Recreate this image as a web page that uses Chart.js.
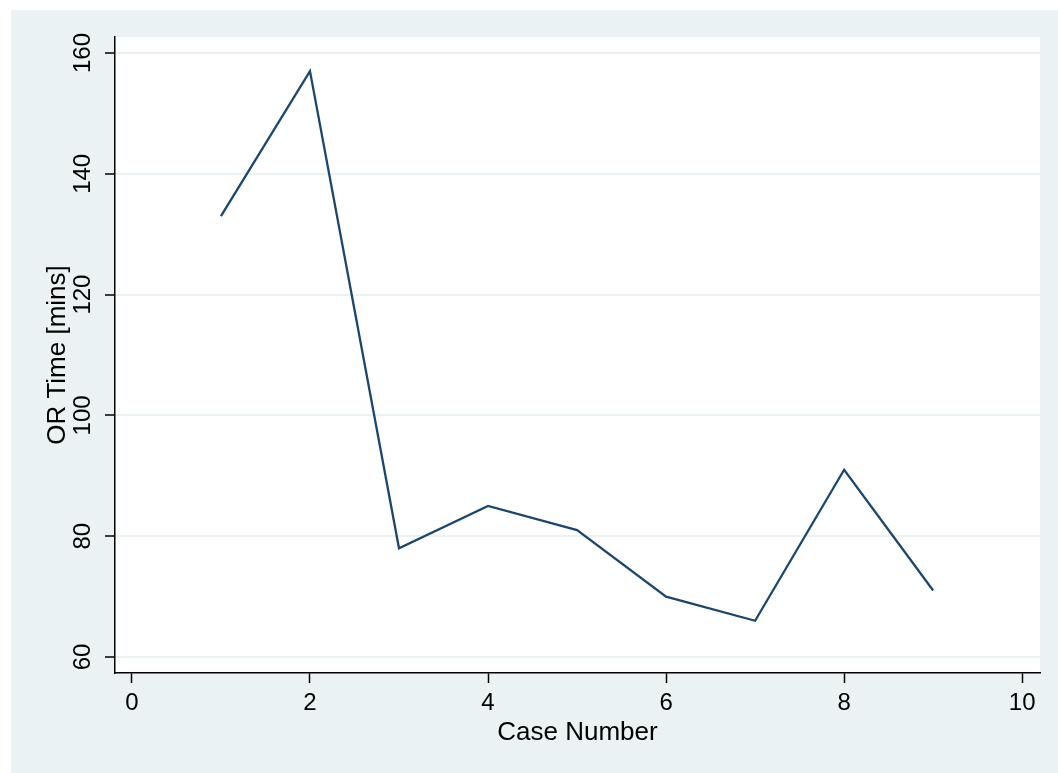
<!DOCTYPE html>
<html>
<head>
<meta charset="utf-8">
<script src="https://cdn.jsdelivr.net/npm/chart.js@4.4.1/dist/chart.umd.min.js"></script>
<style>
  html, body { margin: 0; padding: 0; background: #ffffff; }
  #wrap { position: absolute; left: 11px; top: 10px; width: 1047px; height: 763px; background: #EAF2F3; }
</style>
</head>
<body>
<div id="wrap"><canvas id="orChart" width="1047" height="763"></canvas></div>
<script>
// case number vs OR time
const caseNumbers = [1, 2, 3, 4, 5, 6, 7, 8, 9];
const orTimes = [133, 157, 78, 85, 81, 70, 66, 91, 71];
const xTickLabels = [0, 2, 4, 6, 8, 10];
const yTickLabels = [60, 80, 100, 120, 140, 160];

const plotBg = {
  id: 'plotBg',
  beforeDraw(chart) {
    const { ctx, chartArea } = chart;
    ctx.save();
    ctx.fillStyle = '#ffffff';
    ctx.fillRect(chartArea.left, chartArea.top, chartArea.right - chartArea.left, chartArea.bottom - chartArea.top);
    ctx.restore();
  }
};

const fontFamily = '"Liberation Sans", Arial, Helvetica, sans-serif';

new Chart(document.getElementById('orChart').getContext('2d'), {
  type: 'line',
  data: {
    datasets: [{
      data: caseNumbers.map((c, i) => ({ x: c, y: orTimes[i] })),
      borderColor: '#1A476F',
      borderWidth: 2.3,
      pointRadius: 0,
      tension: 0,
      fill: false
    }]
  },
  options: {
    responsive: false,
    animation: false,
    layout: { padding: { top: 27, right: 18, left: 0, bottom: 0 } },
    plugins: { legend: { display: false }, tooltip: { enabled: false } },
    scales: {
      x: {
        type: 'linear',
        min: -0.19,
        max: 10.2,
        afterBuildTicks: scale => { scale.ticks = xTickLabels.map(v => ({ value: v })); },
        afterFit: scale => { scale.height = 100; },
        grid: { drawOnChartArea: false, tickColor: '#000', tickLength: 10, tickWidth: 1.5 },
        border: { color: '#000', width: 1.5 },
        ticks: { color: '#000', font: { family: fontFamily, size: 24 }, padding: 6, maxRotation: 0 },
        title: { display: true, text: 'Case Number', color: '#000', font: { family: fontFamily, size: 26 }, padding: { top: 0, bottom: 25 } }
      },
      y: {
        type: 'linear',
        min: 57.35,
        max: 162.65,
        afterBuildTicks: scale => { scale.ticks = yTickLabels.map(v => ({ value: v })); },
        afterFit: scale => { scale.width = 104; },
        grid: { color: '#EAF2F3', lineWidth: 2, tickColor: '#000', tickLength: 10, tickWidth: 1.5 },
        border: { color: '#000', width: 1.5 },
        ticks: { color: '#000', font: { family: fontFamily, size: 24 }, padding: 2, minRotation: 90, maxRotation: 90, crossAlign: 'center' },
        title: { display: true, text: 'OR Time [mins]', color: '#000', font: { family: fontFamily, size: 26 }, padding: { top: 31, bottom: 0 } }
      }
    }
  },
  plugins: [plotBg]
});
</script>
</body>
</html>
